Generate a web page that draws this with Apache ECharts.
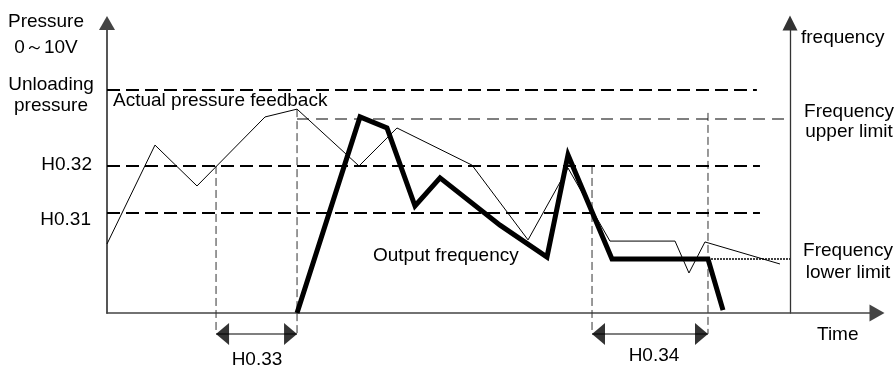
<!DOCTYPE html>
<html><head><meta charset="utf-8">
<script src="https://cdn.jsdelivr.net/npm/echarts/dist/echarts.min.js"></script>
<style>html,body{margin:0;padding:0;background:#fff}#c{width:896px;height:367px}</style>
</head><body><div id="c"></div>
<script>
// ---- data (time 0..100, pressure/frequency 0..10) ----
const pressureFeedback = [[0,2.38],[6.23,5.79],[11.69,4.38],[20.52,6.76],[24.68,7.03],[32.73,5.07],[37.66,6.38],[47.40,5.10],[54.68,2.52],[59.87,5.0],[65.32,2.48],[73.77,2.48],[75.58,1.38],[77.66,2.45],[87.40,1.69]];
const outputFrequency = [[24.68,0],[32.86,6.76],[36.36,6.38],[40.0,3.69],[43.25,4.66],[51.04,3.03],[57.14,1.93],[59.87,5.45],[65.58,1.86],[78.05,1.86],[80.0,0.10]];
const levelNames  = ['Unloading pressure','H0.32','H0.31','Frequency upper limit','Frequency lower limit'];
const levelValues = [7.69, 5.07, 3.45, 6.69, 1.86];
const levelStarts = [0, 0, 0, 24.68, 78.05];
const levelEnds   = [84.4, 84.8, 84.8, 88.7, 88.7];
const markerTimes = [14.16, 24.68, 62.99, 78.05];
const markerTops  = [5.07, 7.03, 5.07, 6.9];
const intervalNames  = ['H0.33','H0.34'];
const intervalStarts = [14.16, 62.99];
const intervalEnds   = [24.68, 78.05];
const intervalLevel  = -0.72;
const textPressureAxis = 'Pressure\n0～10V';
const textFrequencyAxis = 'frequency';
const textTimeAxis = 'Time';
const textUnloading = 'Unloading\npressure';
const textFeedback = 'Actual pressure feedback';
const textOutput = 'Output frequency';
const textUpper = 'Frequency\nupper limit';
const textLower = 'Frequency\nlower limit';

// ---- styles ----
const FONT = '"Liberation Sans", Arial, sans-serif';
const pxPerUnitX = 770 / 100;
const headLen = 13, headW = 22;
const levelStyles = [
  {width:2, type:[13,6], color:'#000'},
  {width:2, type:[13,6], color:'#000'},
  {width:2, type:[13,6], color:'#000'},
  {width:1.2, type:[12,7], color:'#000'},
  {width:1.5, type:[2,1], color:'#000'}
];

const series = [];
series.push({type:'line', name:'Actual pressure feedback', data:pressureFeedback, showSymbol:false, symbol:'none', clip:false,
  lineStyle:{color:'#000', width:1}, z:5});
series.push({type:'line', name:'Output frequency', data:outputFrequency, showSymbol:false, symbol:'none', clip:false,
  lineStyle:{color:'#000', width:5, join:'miter', cap:'butt'}, z:6});
levelValues.forEach((v,i)=>{
  series.push({type:'line', name:levelNames[i], data:[[levelStarts[i],v],[levelEnds[i],v]], symbol:'none', clip:false,
    lineStyle:levelStyles[i], z:3});
});
markerTimes.forEach((t,i)=>{
  series.push({type:'line', data:[[t,markerTops[i]],[t,intervalLevel]], symbol:'none', clip:false,
    lineStyle:{color:'#333', width:1, type:[8,4]}, z:2});
});
const inset = headLen/2/pxPerUnitX;
const heads = [];
intervalStarts.forEach((s,i)=>{
  series.push({type:'line', name:intervalNames[i], data:[[s,intervalLevel],[intervalEnds[i],intervalLevel]], symbol:'none', clip:false,
    lineStyle:{color:'#555', width:1.5}, z:2});
  heads.push({value:[s+inset, intervalLevel], symbolRotate:90});
  heads.push({value:[intervalEnds[i]-inset, intervalLevel], symbolRotate:-90});
});
series.push({type:'scatter', data:heads, symbol:'triangle', symbolSize:[headW, headLen], clip:false,
  itemStyle:{color:'#000'}, z:7});

function txt(text, x, y, align, lh){
  return {type:'text', x:x, y:y, z:100, style:{text:text, fill:'#000', fontSize:19, fontFamily:FONT,
    align:align, verticalAlign:'middle', lineHeight:lh||22}};
}

const axisLineBase = {show:true, onZero:false};
const option = {
  animation:false,
  backgroundColor:'#fff',
  grid:{left:107, right:19, top:23, bottom:54},
  xAxis:{type:'value', min:0, max:100, splitLine:{show:false}, axisTick:{show:false}, axisLabel:{show:false},
    axisLine:Object.assign({}, axisLineBase, {symbol:['none','triangle'], symbolSize:[17,15], lineStyle:{color:'#444', width:1.5}})},
  yAxis:[
    {type:'value', min:0, max:10, position:'left', splitLine:{show:false}, axisTick:{show:false}, axisLabel:{show:false},
      axisLine:Object.assign({}, axisLineBase, {symbol:['none','triangle'], symbolSize:[16,14], lineStyle:{color:'#444', width:1.8}})},
    {type:'value', min:0, max:10, position:'right', offset:-87, splitLine:{show:false}, axisTick:{show:false}, axisLabel:{show:false},
      axisLine:Object.assign({}, axisLineBase, {symbol:['none','triangle'], symbolSize:[15,15], lineStyle:{color:'#333', width:1.3}})}
  ],
  series:series,
  graphic:[
    txt(textPressureAxis, 46, 35, 'center', 26),
    txt(textUnloading, 51, 95.5, 'center', 21),
    txt(levelNames[1], 92, 165, 'right'),
    txt(levelNames[2], 91, 220, 'right'),
    txt(textFeedback, 113, 101, 'left'),
    txt(textOutput, 373, 256, 'left'),
    txt(textFrequencyAxis, 801, 38, 'left'),
    txt(textUpper, 849, 121.6, 'center', 20),
    txt(textLower, 848, 262, 'center', 22),
    txt(textTimeAxis, 817, 335, 'left'),
    txt(intervalNames[0], 257, 359.5, 'center'),
    txt(intervalNames[1], 654, 355.5, 'center')
  ]
};
const chart = echarts.init(document.getElementById('c'), null, {renderer:'canvas'});
chart.setOption(option);
</script>
</body></html>
